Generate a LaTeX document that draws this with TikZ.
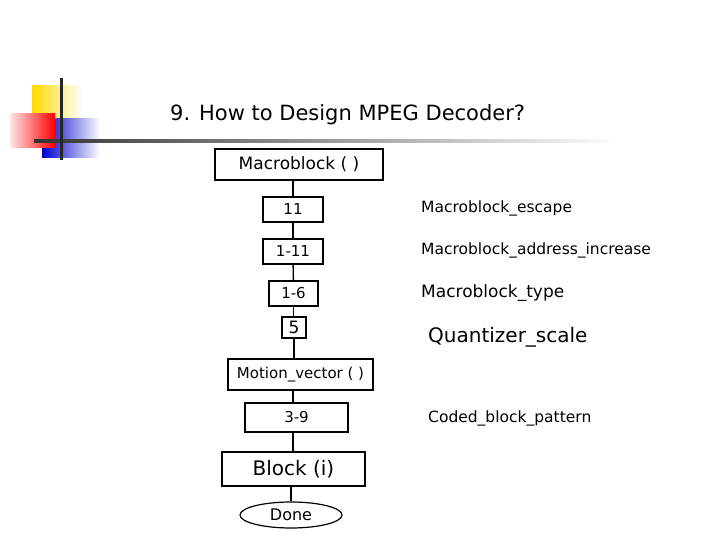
\documentclass[tikz,border=0pt]{standalone}
\usepackage{fontspec}
\setmainfont{DejaVu Sans}
\usetikzlibrary{shapes.geometric}
\begin{document}
\begin{tikzpicture}[x=1pt,y=-1pt,
  bx/.style={draw,line width=1.2pt,inner sep=0pt},
  lbl/.style={anchor=west,inner sep=0pt},
  ln/.style={line width=1.4pt}]
\useasboundingbox (0,0) rectangle (720,540);
% logo
\shade[left color=yellow!70!orange,right color=white] (32,86) rectangle (82,133);
\shade[left color=blue!80!black,right color=white] (42,119) rectangle (100,158);
\shade[left color=red!10,right color=red] (10,114) rectangle (55,148);
\shade[left color=black!80,right color=white] (34,140) rectangle (620,142.5);
\fill[black!85] (60,78) rectangle (62.5,160);
\node[lbl,font=\fontsize{21}{23}\selectfont] (title) at (170,115) {9. How to Design MPEG Decoder?};
% chart
\node[bx,minimum width=168,minimum height=31,font=\fontsize{17}{19}\selectfont] (mb) at (299,164.5) {Macroblock ( )};
\node[bx,minimum width=60,minimum height=25,font=\fontsize{15}{17}\selectfont] (a) at (293,209.5) {11};
\node[bx,minimum width=60,minimum height=25,font=\fontsize{15}{17}\selectfont] (b) at (293,251.5) {1-11};
\node[bx,minimum width=49,minimum height=25,font=\fontsize{15}{17}\selectfont] (c) at (293.5,293.5) {1-6};
\node[bx,minimum width=24,minimum height=21,font=\fontsize{17}{19}\selectfont] (d) at (294,327.5) {5};
\node[bx,minimum width=145,minimum height=31,font=\fontsize{15}{17}\selectfont] (mv) at (300.5,374.5) {Motion\_vector ( )};
\node[bx,minimum width=103,minimum height=29,font=\fontsize{15}{17}\selectfont] (e) at (296.5,417.5) {3-9};
\node[bx,minimum width=143,minimum height=34,font=\fontsize{20}{22}\selectfont] (blk) at (293.5,469) {Block (i)};
\node[draw,line width=1.2pt,ellipse,inner sep=0pt,minimum width=102,minimum height=26,font=\fontsize{16}{18}\selectfont] (done) at (291,515) {Done};
\draw[ln] (293,180) -- (a.north);
\draw[ln] (a) -- (b);
\draw[ln] (b) -- (c);
\draw[ln] (c.south) -- (c.south|-d.north);
\draw[ln] (d.south) -- (d.south|-mv.north);
\draw[ln] (293,390) -- (293,403);
\draw[ln] (293,432) -- (293,452);
\draw[ln] (blk.south-|done.north) -- (done.north);
% labels
\node[lbl,font=\fontsize{15.5}{17}\selectfont] (l1) at (421,208) {Macroblock\_escape};
\node[lbl,font=\fontsize{15.5}{17}\selectfont] (l2) at (421,250) {Macroblock\_address\_increase};
\node[lbl,font=\fontsize{17}{19}\selectfont] (l3) at (421,293) {Macroblock\_type};
\node[lbl,font=\fontsize{20}{22}\selectfont] (l4) at (428,337) {Quantizer\_scale};
\node[lbl,font=\fontsize{15.5}{17}\selectfont] (l5) at (428,418) {Coded\_block\_pattern};
\end{tikzpicture}
\end{document}
